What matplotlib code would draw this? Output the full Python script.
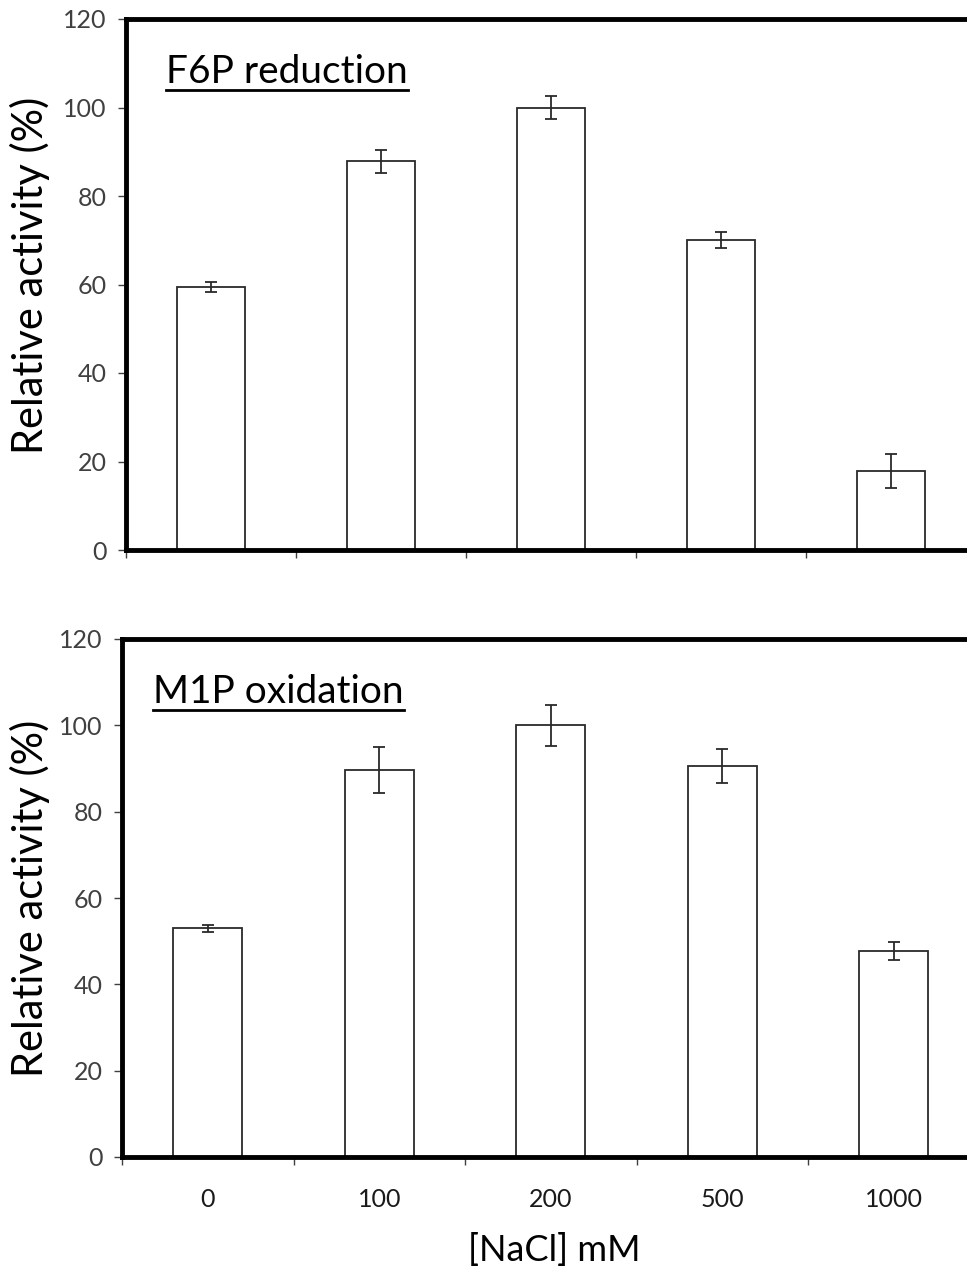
import matplotlib
matplotlib.use("Agg")
import matplotlib.pyplot as plt
from matplotlib.lines import Line2D
import numpy as np

plt.rcParams['font.family'] = ['Lato', 'DejaVu Sans']

categories = ["0", "100", "200", "500", "1000"]
f6p_values = [59.4, 87.8, 99.9, 70.1, 17.9]
f6p_errors = [1.2, 2.6, 2.6, 1.8, 3.8]
m1p_values = [53.0, 89.6, 100.0, 90.6, 47.7]
m1p_errors = [0.8, 5.3, 4.7, 3.9, 2.0]
titles = ["F6P reduction", "M1P oxidation"]
ylabel = "Relative activity (%)"
xlabel = "[NaCl] mM"
yticks = [0, 20, 40, 60, 80, 100, 120]

W, H = 967, 1283
fig = plt.figure(figsize=(W / 100, H / 100), dpi=100)

def fx(px):
    return px / W

def fy(py):
    return 1 - py / H

ax_specs = [
    # left px, top px, bottom px, category spacing px
    (126, 19, 550, 170.0),
    (122, 639, 1157, 171.5),
]

axes = []
for i, (lpx, tpx, bpx, sp) in enumerate(ax_specs):
    ax = fig.add_axes([fx(lpx), fy(bpx), 5 * sp / W, (bpx - tpx) / H])
    axes.append(ax)

datasets = [(f6p_values, f6p_errors), (m1p_values, m1p_errors)]
x = np.arange(len(categories))

for i, ax in enumerate(axes):
    vals, errs = datasets[i]
    ax.bar(x, vals, width=0.4, color='white', edgecolor='#2a2a2a', linewidth=1.3, zorder=2)
    ax.errorbar(x, vals, yerr=errs, fmt='none', ecolor='#2a2a2a', elinewidth=1.3,
                capsize=4.5, capthick=1.3, zorder=3)
    ax.set_xlim(-0.5, 4.5)
    ax.set_ylim(0, 120)
    ax.set_yticks(yticks)
    ax.set_yticklabels([str(t) for t in yticks])
    ax.set_xticks(np.arange(-0.5, 5.0, 1.0))
    ax.set_xticklabels([])
    ax.tick_params(axis='both', which='major', direction='out', length=6, width=1.0,
                   color='#404040', labelsize=18, labelcolor='#404040')
    ax.tick_params(axis='y', pad=8)
    for side in ['left', 'top', 'bottom', 'right']:
        ax.spines[side].set_linewidth(3.5)
        ax.spines[side].set_color('black')
    ax.set_facecolor('none')

# category labels on the lower panel
axes[1].set_xticks(x, minor=True)
axes[1].set_xticklabels(categories, minor=True)
axes[1].tick_params(axis='x', which='minor', length=0, pad=22, labelsize=18, labelcolor='#1a1a1a')

# y labels
fig.text(fx(30), fy(275), ylabel, rotation=90, ha='center', va='center', fontsize=30, color='black')
fig.text(fx(30), fy(898), ylabel, rotation=90, ha='center', va='center', fontsize=30, color='black')

# x label
fig.text(fx(554), fy(1250), xlabel, ha='center', va='center', fontsize=26, color='black')

# panel titles, underlined
title_pos = [(166, 83), (153, 703)]
title_texts = []
for (tx, ty), t in zip(title_pos, titles):
    title_texts.append(fig.text(fx(tx), fy(ty), t, ha='left', va='baseline', fontsize=28, color='black'))

fig.canvas.draw()
renderer = fig.canvas.get_renderer()
for (tx, ty), txt in zip(title_pos, title_texts):
    bb = txt.get_window_extent(renderer=renderer)
    uy = fy(ty + 7)
    fig.add_artist(Line2D([bb.x0 / W, bb.x1 / W], [uy, uy], transform=fig.transFigure,
                          color='black', linewidth=2.0))

fig.savefig("out.png", dpi=100)
